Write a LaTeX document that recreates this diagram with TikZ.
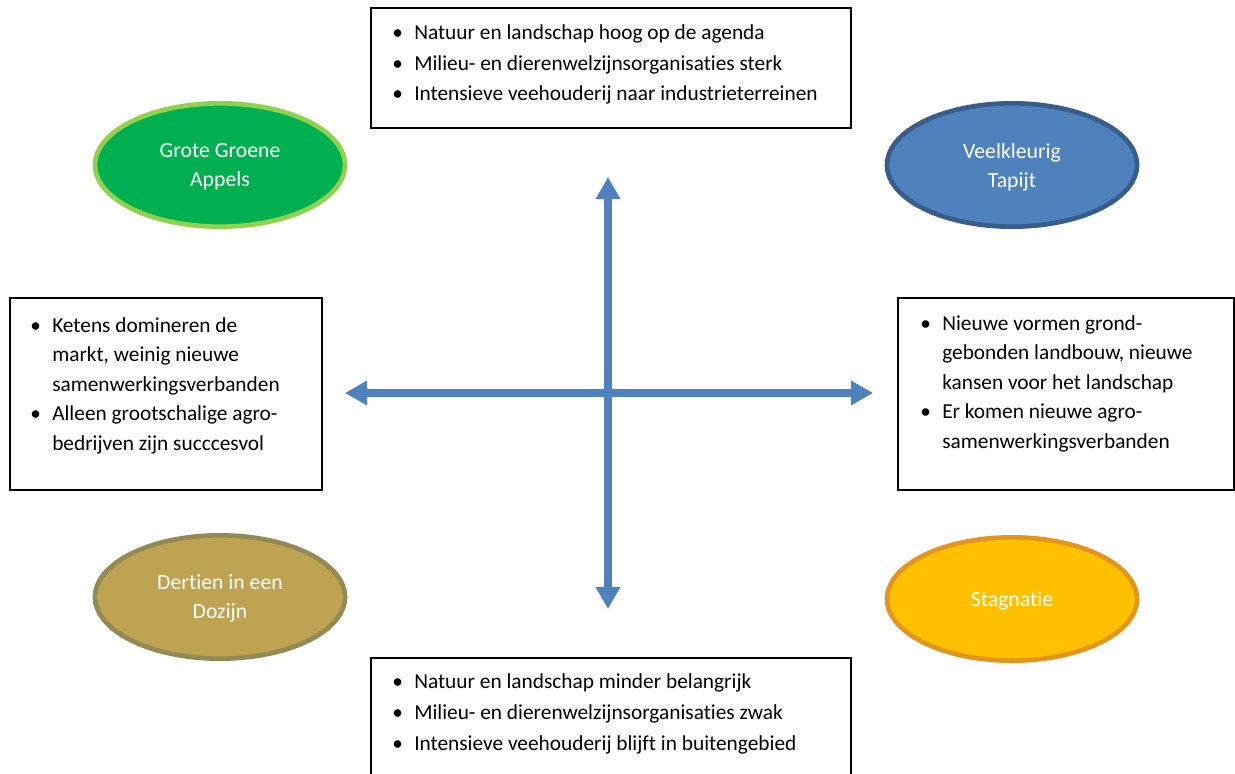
\documentclass[tikz,border=0pt]{standalone}
\usepackage{fontspec}
\setmainfont{Carlito}[Ligatures=NoCommon]
\usetikzlibrary{arrows.meta,shapes.geometric}
\definecolor{axisblue}{HTML}{4F81BD}
\definecolor{ggfill}{HTML}{00B050}
\definecolor{ggline}{HTML}{92D050}
\definecolor{vtfill}{HTML}{4F81BD}
\definecolor{vtline}{HTML}{385D8A}
\definecolor{ddfill}{HTML}{BEA352}
\definecolor{ddline}{HTML}{948A54}
\definecolor{stfill}{HTML}{FFC000}
\definecolor{stline}{HTML}{E3961F}
\newcommand{\bul}{\makebox[16.5pt][l]{\textbullet}}
\newcommand{\ind}{\hspace*{16.5pt}}
\tikzset{
  lbox/.style={draw=black, line width=1.2pt, fill=white, anchor=north west, inner sep=0pt},
  ltext/.style={anchor=base west, inner sep=0pt, align=left},
  sidefont/.style={font=\fontsize{16}{22.1}\selectfont},
  tbfont/.style={font=\fontsize{16}{23.1}\selectfont},
  oval/.style={ellipse, line width=3.5pt, minimum width=187.5pt, minimum height=92.5pt,
    text=white, align=center, inner sep=0pt, text depth=0pt, font=\fontsize{16.3}{21.75}\selectfont},
  axis/.style={draw=axisblue, line width=6pt,
    {Triangle[length=16.5pt,width=17.5pt]}-{Triangle[length=16.5pt,width=17.5pt]}}
}
\begin{document}
\begin{tikzpicture}[x=0.75pt,y=-0.75pt]
\useasboundingbox (0,0) rectangle (1235,774);
\clip (0,0) rectangle (1235,774);
\fill[white] (0,0) rectangle (1235,774);

% boxes
\node[lbox, minimum width=360pt, minimum height=90pt] (topbox) at (370,7) {};
\node[lbox, minimum width=234pt, minimum height=144pt] (leftbox) at (9,297) {};
\node[lbox, minimum width=252pt, minimum height=144pt] (rightbox) at (897,297) {};
\node[lbox, minimum width=360pt, minimum height=92pt] (botbox) at (370,657) {};

% texts (anchored at the baseline of the last line)
\node[ltext, tbfont] (toptext) at (392,101) {\bul Natuur en landschap hoog op de agenda\\
\bul Milieu- en dierenwelzijnsorganisaties sterk\\
\bul Intensieve veehouderij naar industrieterreinen};

\node[ltext, tbfont] (bottext) at (392,750) {\bul Natuur en landschap minder belangrijk\\
\bul Milieu- en dierenwelzijnsorganisaties zwak\\
\bul Intensieve veehouderij blijft in buitengebied};

\node[ltext, sidefont] (lefttext) at (30,450) {\bul Ketens domineren de\\
\ind markt, weinig nieuwe\\
\ind samenwerkingsverbanden\\
\bul Alleen grootschalige agro-\\
\ind bedrijven zijn succcesvol};

\node[ltext, sidefont] (righttext) at (920,448) {\bul Nieuwe vormen grond-\\
\ind gebonden landbouw, nieuwe\\
\ind kansen voor het landschap\\
\bul Er komen nieuwe agro-\\
\ind samenwerkingsverbanden};

% ellipses
\node[oval, fill=ggfill, draw=ggline] (gga) at (220,165) {Grote Groene\\Appels};
\node[oval, fill=vtfill, draw=vtline] (vt) at (1012,165) {Veelkleurig\\Tapijt};
\node[oval, fill=ddfill, draw=ddline] (dd) at (220,597) {Dertien in een\\Dozijn};
\node[oval, fill=stfill, draw=stline] (st) at (1012,599) {Stagnatie};

% axes
\coordinate (ntip) at (608,177);
\coordinate (stip) at (608,609);
\coordinate (wtip) at (345,393);
\coordinate (etip) at (873,393);
\draw[axis] (stip) -- (ntip);
\draw[axis] (wtip) -- (etip);
\end{tikzpicture}
\end{document}
